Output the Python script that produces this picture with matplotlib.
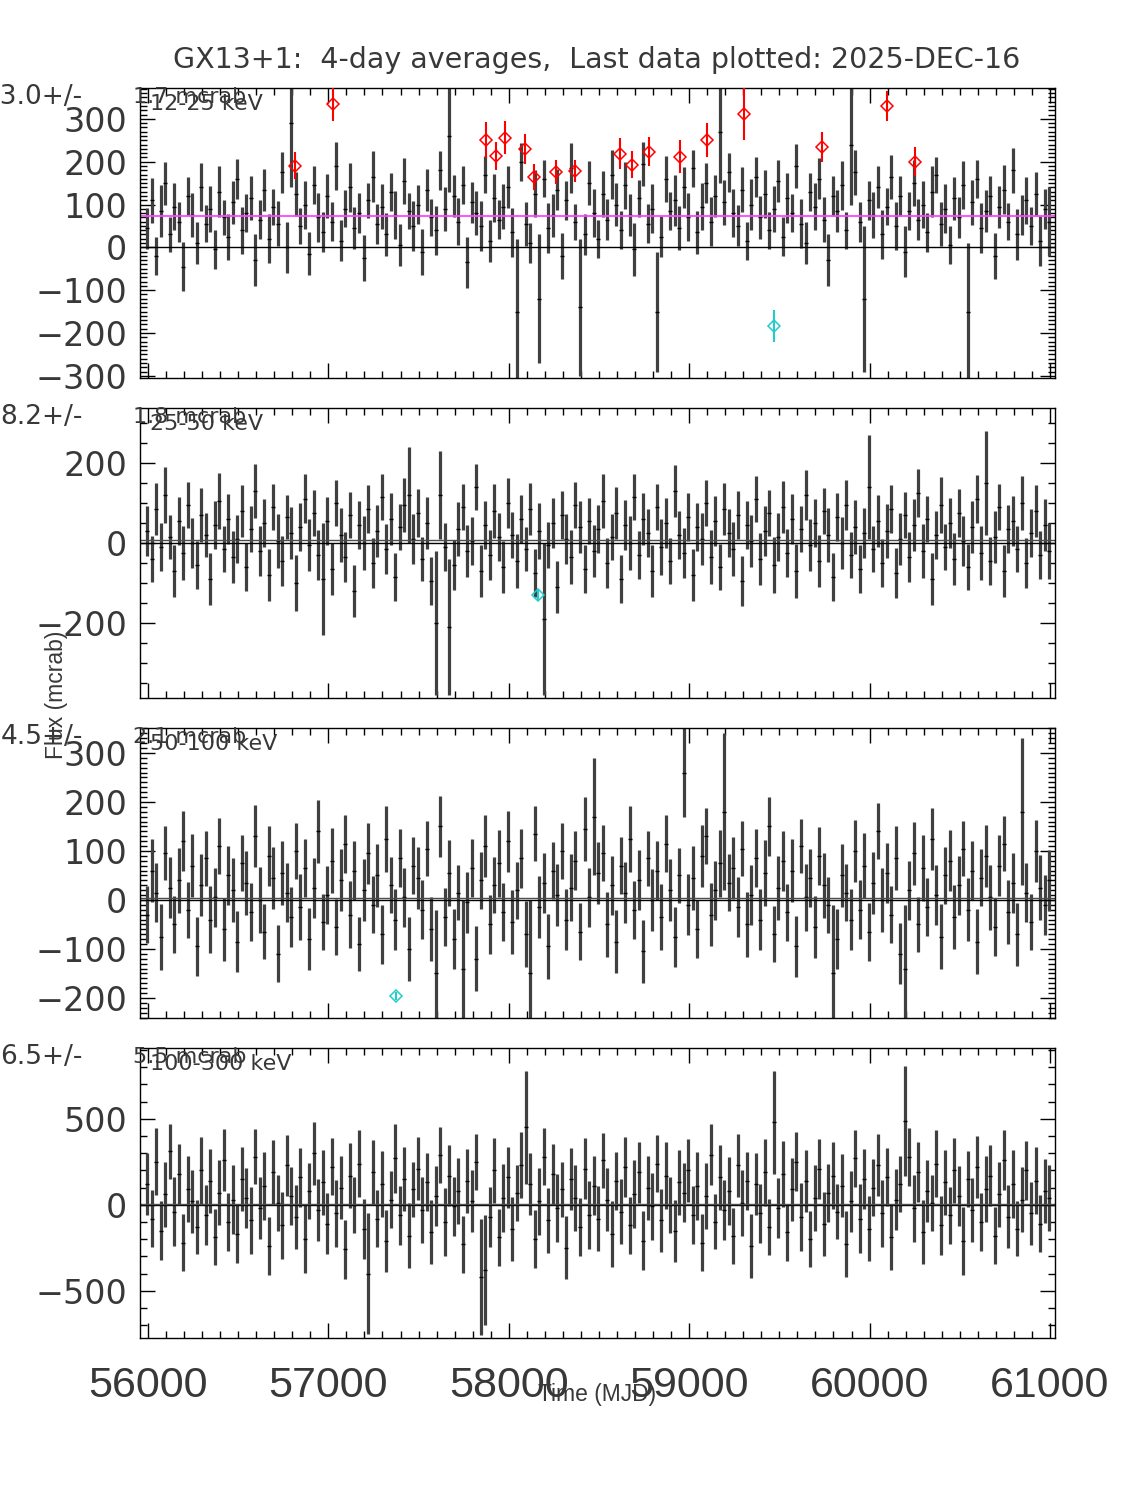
import numpy as np
import matplotlib.pyplot as plt
from matplotlib import font_manager
from matplotlib.ticker import MultipleLocator

# time grid of the plotted bins (MJD)
t0 = 55995.0
dt = 25.0

# 12-25 keV
flux_a = [45, 110, -20, 85, 150, 30, 95, 60, -45, 120, 75, 10, 140, 55, 90, -5, 130, 70, 25, 105,
          160, 40, 80, 115, -30, 65, 135, 20, 95, 55, 175, 0, 290, 125, 50, 100, -15, 145, 70, 35,
          120, 60, 190, 15, 90, 140, 45, 80, -25, 110, 165, 55, 95, 30, 130, 75, 5, 155, 85, 50,
          100, -10, 135, 70, 40, 180, 90, 260, 120, 60, 145, -35, 105, 80, 50, 170, 15, 115, 65, 95,
          140, 35, -150, 200, 55, 10, 125, -120, 160, 45, 75, 135, -20, 110, 185, 60, -140, 30, 150, 80,
          20, 125, 65, 170, 100, 40, 145, 75, -5, 115, 195, 55, 90, -150, 25, 160, 85, 110, 45, 140,
          70, 185, 35, 95, 150, 60, 120, 270, 105, 175, 80, 50, 135, 15, 100, 165, 70, 125, 40, 90,
          155, 25, 115, 80, 190, 55, 10, 130, 95, 160, 65, -30, 120, 85, 145, 40, 240, 175, 60, -120,
          110, 75, 140, 30, 95, 165, 50, 120, -10, 85, 150, 65, 100, 35, 130, 170, 55, 90, 5, 115,
          70, 145, -150, 105, 160, 45, 85, 120, -20, 95, 135, 60, 180, 30, 75, 110, 50, 125, 15, 90,
          60]
err_a = [48, 52, 45, 60, 50, 42, 55, 47, 58, 44, 51, 49, 56, 43, 53, 46, 59, 41, 54, 50,
         47, 55, 44, 52, 61, 45, 49, 57, 42, 53, 48, 60, 150, 51, 43, 56, 50, 44, 58, 47,
         52, 45, 55, 48, 43, 57, 50, 46, 54, 41, 59, 47, 53, 51, 44, 56, 49, 53, 42, 58,
         46, 54, 49, 43, 57, 45, 52, 130, 48, 55, 44, 60, 47, 51, 58, 43, 50, 56, 45, 53,
         49, 57, 170, 44, 52, 46, 55, 150, 43, 58, 50, 47, 54, 45, 59, 42, 160, 48, 51, 56,
         44, 53, 47, 58, 50, 45, 55, 49, 61, 43, 52, 46, 57, 140, 48, 54, 45, 59, 51, 47,
         56, 43, 50, 55, 46, 58, 49, 120, 52, 45, 57, 48, 53, 44, 60, 47, 51, 56, 43, 54,
         50, 46, 58, 45, 52, 57, 49, 44, 55, 48, 53, 61, 46, 50, 57, 43, 140, 52, 47, 170,
         45, 54, 49, 58, 43, 51, 56, 47, 60, 44, 53, 48, 55, 46, 59, 42, 52, 57, 45, 50,
         48, 56, 160, 53, 45, 58, 50, 46, 54, 49, 57, 43, 52, 60, 47, 55, 44, 51, 58, 46,
         80]

# 25-50 keV
flux_b = [30, -40, 85, -10, 120, 15, -70, 55, -25, 95, 0, -55, 70, 20, -90, 45, 105, -15, 60, -35,
          10, 80, -60, 35, 130, -20, 50, -80, 90, 5, -45, 65, 25, -100, 40, 110, -5, 75, -30, -90,
          55, -65, 100, 20, -35, 70, -120, 45, 0, 85, -50, 30, 115, -15, 60, -85, 40, 95, 120, 10,
          75, -40, 50, -95, -200, 120, -10, -210, -55, 35, 90, -20, 5, 140, -70, 45, -30, 80, 15, -60,
          100, 20, -45, 60, -15, 85, -75, 30, -190, -5, 50, -110, 70, 10, -35, 95, 40, -65, 55, -20,
          35, 105, -50, 15, 75, -90, 45, 0, 115, -30, 60, 25, -70, 90, -10, 50, -45, 130, 20, -25,
          65, -80, 40, 10, 100, -35, 55, -60, 85, 25, -15, 70, -95, 45, 5, 110, -40, 30, 75, -55,
          15, 90, -25, 60, -70, 35, 120, -5, 50, -45, 80, 20, -85, 65, 0, 95, -30, 40, -65, 25,
          140, -15, 55, -50, 30, 85, -75, 10, 70, -35, 45, 125, -20, 60, -90, 20, 95, -10, 50, -40,
          75, 5, -60, 40, 110, -25, 150, -45, 15, 90, -70, 35, 55, -15, 100, -50, 25, 80, -30, 45,
          -20]
err_b = [62, 58, 66, 60, 70, 55, 64, 59, 68, 57, 63, 61, 67, 56, 65, 60, 69, 58, 62, 64,
         59, 66, 61, 57, 68, 63, 60, 65, 58, 67, 62, 56, 64, 69, 59, 61, 66, 57, 63, 140,
         60, 65, 58, 68, 62, 57, 64, 61, 67, 59, 63, 66, 58, 62, 65, 60, 57, 68, 120, 63,
         61, 56, 66, 60, 180, 110, 59, 170, 62, 67, 58, 64, 61, 57, 66, 60, 63, 68, 59, 65,
         62, 58, 67, 61, 56, 64, 60, 69, 190, 57, 63, 66, 59, 62, 68, 58, 65, 61, 57, 64,
         60, 67, 62, 58, 65, 59, 63, 68, 57, 61, 66, 60, 64, 58, 69, 62, 57, 65, 61, 63,
         59, 66, 60, 64, 58, 67, 62, 57, 65, 61, 68, 59, 63, 60, 66, 58, 64, 62, 57, 69,
         61, 65, 59, 63, 67, 58, 62, 66, 60, 64, 57, 68, 61, 59, 65, 63, 58, 67, 60, 62,
         130, 57, 64, 61, 68, 59, 63, 66, 58, 62, 65, 60, 67, 57, 64, 61, 69, 58, 63, 66,
         60, 62, 57, 65, 59, 68, 130, 61, 64, 58, 66, 60, 63, 57, 67, 62, 59, 65, 61, 64,
         70]

# 50-100 keV
flux_c = [-30, 60, 15, -75, 95, 25, -50, 40, 120, -20, 70, -95, 30, 85, -40, 5, 110, -60, 50, 20,
          -85, 75, 35, -25, 130, 0, -65, 90, 45, -110, 55, 15, -35, 100, -15, 65, -80, 25, 140, -45,
          10, 80, -55, 40, 115, -30, 60, -90, 20, 95, -10, 50, -70, 125, 30, -40, 85, 5, -100, 70,
          45, -20, 105, -60, -150, 150, -35, 55, -80, 15, -140, -5, 65, -120, 40, 110, -50, 30, 75, -25,
          120, -45, 20, 85, -70, -150, 135, -15, 35, -95, 60, 10, 100, -40, 25, 80, -65, 145, 5, 170,
          55, 95, -50, 30, -85, 70, 15, 125, -20, 40, -105, 85, 0, 60, -35, 115, 20, -75, 50, 260,
          -10, 45, -60, 90, 130, -30, 20, 75, 180, 35, 65, -15, 105, -50, 10, 85, -40, 55, 150, -70,
          25, 80, -25, 60, -95, 110, 5, 45, -55, 90, 30, -10, -150, -80, 50, 15, -40, 100, -20, 70,
          -65, 35, 140, 0, 55, -30, 85, -110, -140, 20, 95, -50, 65, -15, 125, 10, -75, 50, 80, -35,
          30, 105, -20, 60, -85, 45, 90, 5, -55, 70, 115, -25, 35, -70, 180, 15, -45, 100, 25, -10,
          40]
err_c = [58, 64, 60, 67, 55, 62, 59, 66, 61, 57, 65, 60, 63, 56, 68, 61, 58, 64, 60, 66,
         62, 57, 65, 59, 63, 68, 56, 61, 64, 58, 66, 60, 62, 57, 67, 59, 63, 61, 65, 58,
         60, 66, 57, 63, 59, 68, 61, 56, 64, 62, 58, 65, 60, 67, 57, 63, 59, 61, 66, 58,
         64, 60, 57, 65, 130, 62, 59, 67, 61, 56, 140, 63, 60, 66, 58, 64, 61, 57, 68, 59,
         62, 65, 58, 60, 67, 150, 56, 63, 61, 66, 59, 64, 57, 62, 68, 60, 58, 65, 61, 120,
         63, 57, 66, 60, 64, 58, 62, 67, 59, 61, 65, 56, 63, 60, 68, 58, 64, 61, 57, 90,
         62, 66, 59, 63, 57, 65, 60, 68, 160, 58, 64, 61, 56, 66, 62, 59, 63, 67, 60, 57,
         65, 61, 58, 64, 62, 56, 68, 60, 63, 59, 66, 57, 140, 61, 65, 58, 62, 64, 60, 67,
         59, 63, 57, 66, 61, 58, 65, 62, 130, 60, 64, 57, 68, 59, 63, 61, 66, 58, 62, 65,
         60, 57, 64, 61, 67, 58, 63, 66, 59, 62, 56, 65, 61, 64, 150, 60, 58, 63, 66, 61,
         62]

# 100-300 keV
flux_d = [120, -80, 250, -150, 60, 310, -40, 180, -220, 90, 20, -130, 200, -60, 140, -190, 70, 260, -100, 30,
          -170, 150, 40, -90, 280, -20, 110, -240, 190, 10, -120, 230, 50, -70, 160, -200, 80, 300, -30, 130,
          -110, 220, -50, 100, -260, 170, 0, 240, -140, -400, 190, -80, 120, -210, 30, 270, -60, 150, -180, 90,
          210, -30, 130, -160, 50, 290, -100, 170, -10, 80, -230, 140, 20, 250, -420, -380, -70, 200, -190, 40,
          160, -140, 70, 230, 450, 120, -200, 20, 280, -90, 180, -20, 90, -250, 150, 40, -130, 210, -60, 110,
          -80, 260, 30, -170, 140, -40, 220, -120, 60, 190, -210, 100, -10, 240, -90, 170, 0, -150, 130, 70,
          200, -60, 110, -220, 50, 290, -100, 160, -30, 80, -180, 230, 10, 140, -240, 120, -50, 190, -130, 480,
          -20, 180, -160, 90, 250, -70, 140, -200, 40, 210, -110, 70, 170, -40, 110, -230, 20, 270, -80, 150,
          -140, 100, 230, -50, 160, -190, 30, 120, 490, 280, -20, 190, -160, 80, 10, 240, -120, 130, -60, 200,
          50, -210, 150, -30, 220, -100, 90, 170, -180, 60, 260, -70, 120, -140, 30, 200, -50, 140, -110, 80,
          40]
err_d = [180, 165, 195, 172, 188, 160, 200, 176, 168, 192, 183, 158, 197, 174, 186, 163, 190, 178, 170, 199,
         167, 185, 175, 194, 162, 181, 198, 171, 189, 164, 193, 177, 169, 187, 173, 196, 161, 184, 179, 191,
         176, 166, 195, 182, 170, 188, 163, 197, 174, 350, 186, 168, 192, 179, 165, 199, 172, 184, 190, 161,
         183, 194, 169, 187, 175, 164, 196, 178, 171, 191, 166, 185, 180, 162, 340, 320, 173, 189, 167, 198,
         177, 186, 163, 193, 330, 181, 170, 195, 165, 188, 174, 199, 161, 184, 179, 192, 168, 176, 197, 172,
         187, 160, 182, 194, 169, 190, 175, 164, 198, 178, 171, 186, 193, 166, 183, 196, 162, 180, 189, 173,
         185, 170, 197, 165, 191, 177, 160, 188, 174, 199, 163, 182, 194, 168, 187, 179, 172, 195, 161, 300,
         176, 193, 167, 184, 171, 198, 180, 164, 190, 175, 186, 169, 196, 162, 183, 192, 178, 166, 199, 173,
         189, 164, 181, 195, 170, 187, 176, 161, 320, 168, 194, 174, 185, 179, 163, 197, 172, 188, 166, 191,
         175, 198, 162, 186, 180, 169, 193, 177, 165, 190, 173, 184, 196, 160, 189, 171, 182, 195, 167, 187,
         190]

# significant bins (red: high, cyan: low)
red_t = [56815, 57025, 57874, 57929, 57979, 58090, 58140, 58262, 58367, 58616,
         58683, 58777, 58949, 59099, 59304, 59736, 60097, 60252]
red_f = [191, 335, 251, 214, 256, 230, 165, 177, 179, 219,
         193, 223, 212, 251, 312, 235, 330, 200]
red_e = [32, 40, 42, 33, 38, 35, 30, 28, 26, 36,
         31, 34, 38, 40, 62, 35, 36, 34]
cyan_t = [59470, 58162, 57375]
cyan_f = [-184, -130, -196]
cyan_e = [38, 12, 8]
cyan_panel = [0, 1, 2]

bands = ['12-25 keV', '25-50 keV', '50-100 keV', '100-300 keV']
means = [73.0, 8.2, 4.5, 6.5]
mean_errs = [1.7, 1.8, 2.1, 5.5]

fluxes = [flux_a, flux_b, flux_c, flux_d]
errors = [err_a, err_b, err_c, err_d]
ylims = [(-305, 372), (-387, 337), (-241, 351), (-775, 912)]
majors = [100, 200, 100, 500]
minors = [10, 50, 10, 100]
xticks = [56000, 57000, 58000, 59000, 60000, 61000]

plt.rcParams['font.family'] = ['DejaVu Sans']
installed = {f.name for f in font_manager.fontManager.ttflist}
# narrow, tall digits for the time axis
if 'Liberation Sans Narrow' in installed:
    narrow, xsize, lsize = 'Liberation Sans Narrow', 36, 19
elif 'Liberation Sans' in installed:
    narrow, xsize, lsize = 'Liberation Sans', 31, 16.5
else:
    narrow, xsize, lsize = 'DejaVu Sans', 27, 14.5
ink = '#383838'

fig = plt.figure(figsize=(11.25, 15), dpi=100)
W, H = 1125.0, 1500.0
left_px, right_px = 140, 1055
tops = [88, 408, 728, 1048]
ph = 290

for i in range(4):
    top = tops[i]
    ax = fig.add_axes([left_px / W, 1 - (top + ph) / H, (right_px - left_px) / W, ph / H])
    f = np.array(fluxes[i], float)
    e = np.array(errors[i], float)
    t = t0 + dt * np.arange(len(f))
    ax.vlines(t, f - e, f + e, color='0.25', lw=2.3)
    ax.plot(t, f, ls='none', marker='_', ms=3, mew=1, color='k')
    ax.axhline(0, color='k', lw=1.0)
    if i == 0:
        ax.axhline(means[i], color='#ff44ff', lw=1.3)
    else:
        ax.axhline(means[i], color='0.3', lw=1.0)
    if i == 0:
        ax.errorbar(red_t, red_f, yerr=red_e, fmt='D', ms=6, mfc='none', mec='red',
                    ecolor='red', elinewidth=1.5, capsize=0, mew=1.1, zorder=5)
    for k in range(len(cyan_t)):
        if cyan_panel[k] == i:
            ax.errorbar([cyan_t[k]], [cyan_f[k]], yerr=[cyan_e[k]], fmt='D', ms=6,
                        mfc='none', mec='#22cccc', ecolor='#22cccc', elinewidth=1.5,
                        capsize=0, mew=1.1, zorder=5)
    ax.set_xlim(55956, 61028)
    ax.set_ylim(*ylims[i])
    ax.set_xticks(xticks)
    ax.xaxis.set_minor_locator(MultipleLocator(100))
    ax.yaxis.set_major_locator(MultipleLocator(majors[i]))
    ax.yaxis.set_minor_locator(MultipleLocator(minors[i]))
    ax.tick_params(which='both', direction='in', top=True, right=True, width=1.0)
    ax.tick_params(which='major', length=11)
    ax.tick_params(which='minor', length=5)
    ax.tick_params(axis='y', labelsize=24, pad=9, labelcolor=ink)
    if i == 3:
        ax.set_xticklabels([str(v) for v in xticks], fontfamily=narrow, fontsize=xsize, color=ink)
        ax.tick_params(axis='x', pad=20)
    else:
        ax.tick_params(axis='x', labelbottom=False)
    for s in ax.spines.values():
        s.set_linewidth(1.0)

    ytxt = 1 - (top + 9) / H
    fig.text(83 / W, ytxt, '%.1f+/-' % means[i], ha='right', va='center', fontsize=19, color=ink)
    fig.text(133 / W, ytxt, '%.1f mcrab' % mean_errs[i], ha='left', va='center', fontsize=16, color=ink)
    fig.text(150 / W, 1 - (top + 16) / H, bands[i], ha='left', va='center', fontsize=16, color=ink)

fig.text(597 / W, 1 - 60 / H, 'GX13+1:  4-day averages,  Last data plotted: 2025-DEC-16',
         ha='center', va='center', fontsize=20.5, color=ink)
fig.text(56 / W, 1 - 695 / H, 'Flux (mcrab)', rotation=90, ha='center', va='center',
         fontsize=lsize, family=narrow, color=ink)
fig.text(597 / W, 1 - 1395 / H, 'Time (MJD)', ha='center', va='center', fontsize=lsize,
         family=narrow, color=ink)

fig.savefig('out.png', dpi=100)
